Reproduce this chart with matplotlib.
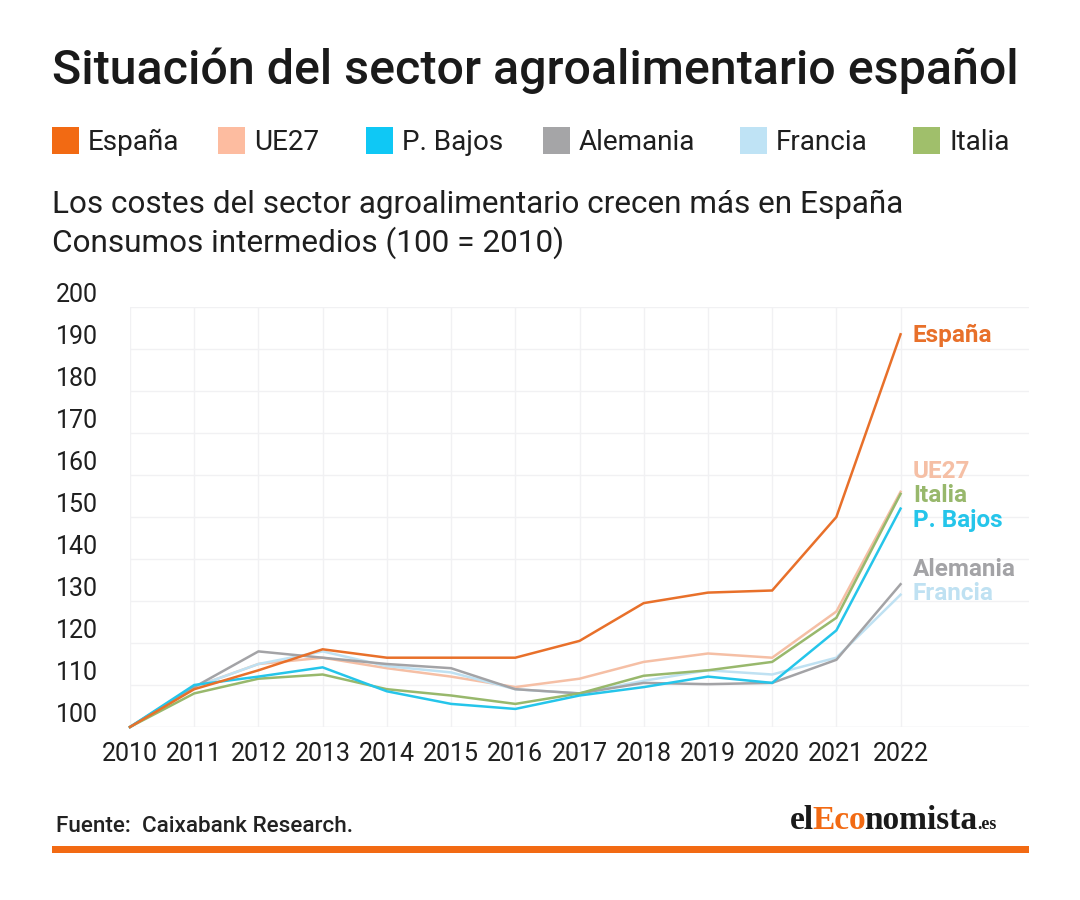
#!/usr/bin/env python3
# -*- coding: utf-8 -*-
import matplotlib
matplotlib.use('Agg')
import matplotlib.pyplot as plt
from matplotlib.patches import Rectangle
from matplotlib.transforms import ScaledTranslation

W, H = 1080, 900

years = list(range(2010, 2023))
espana = [100, 109, 113.5, 118.5, 116.5, 116.5, 116.5, 120.5, 129.5, 132, 132.5, 150, 193.5]
ue27 = [100, 109.5, 115, 116.5, 114, 112, 109.5, 111.5, 115.5, 117.5, 116.5, 127.5, 156]
p_bajos = [100, 110, 112, 114.2, 108.5, 105.5, 104.3, 107.5, 109.5, 112, 110.5, 123, 152]
alemania = [100, 109.5, 118, 116.5, 115, 114, 109, 108, 110.5, 110.2, 110.5, 116, 134]
francia = [100, 109.5, 115, 118, 114.5, 113, 109, 108, 111, 113.5, 112.5, 116.5, 131.5]
italia = [100, 108, 111.5, 112.5, 109, 107.5, 105.5, 108, 112.2, 113.5, 115.5, 126, 155.5]
yticks = list(range(100, 201, 10))

names = ['España', 'UE27', 'P. Bajos', 'Alemania', 'Francia', 'Italia']
colors = ['#F26A13', '#FDBCA0', '#0FC8F5', '#A5A5A7', '#BFE3F5', '#A0BF6B']
legend_x = [52, 218, 366, 543, 740, 913]
# end label heights in pixels, they are moved apart so they don't overlap
label_y = [335, 471, 521, 570, 593, 496]
line_colors = ['#E8702A', '#F5BFA5', '#25C5EA', '#A3A3A6', '#BFE1F2', '#98B86C']

series = [espana, ue27, p_bajos, alemania, francia, italia]
draw_order = [1, 4, 3, 5, 2, 0]

plt.rcParams['font.family'] = ['Roboto', 'DejaVu Sans']
ink = '#1F1F1F'

fig = plt.figure(figsize=(W / 100, H / 100), dpi=100, facecolor='white')


def px(x, y):
    # pixel position (from top left) to figure fraction
    return x / W, 1 - y / H


def put(x, y, s, **kw):
    fx, fy = px(x, y)
    kw.setdefault('va', 'center')
    kw.setdefault('color', ink)
    return fig.text(fx, fy, s, **kw)


left, right, top, bottom = 130, 1029, 307, 727
ax = fig.add_axes([left / W, 1 - bottom / H, (right - left) / W, (bottom - top) / H])

for i in draw_order:
    ax.plot(years, series[i], color=line_colors[i], lw=1.8, clip_on=False, zorder=3,
            solid_joinstyle='miter')

ax.set_xlim(2010, 2024)
ax.set_ylim(100, 200)
ax.set_xticks(years)
ax.set_yticks(yticks)
ax.tick_params(length=0, labelsize=18, labelcolor=ink)
ax.tick_params(axis='x', pad=11)
ax.tick_params(axis='y', pad=23)
ax.grid(color='#F1F1F3', lw=1)
ax.set_axisbelow(True)
for s in ax.spines.values():
    s.set_visible(False)
ax.axhline(100, color='#F1F1F3', lw=1, zorder=1)

# y labels sit above their gridlines in this chart
lift = ScaledTranslation(0, 15 / 100, fig.dpi_scale_trans)
for lab in ax.get_yticklabels():
    lab.set_transform(lab.get_transform() + lift)

put(52, 71, 'Situación del sector agroalimentario español', fontsize=34.85, fontweight='medium', color='#1A1A1A')

for x, name, c in zip(legend_x, names, colors):
    fx, fy = px(x, 154)
    fig.add_artist(Rectangle((fx, fy), 27 / W, 27 / H, transform=fig.transFigure, color=c, lw=0))
    put(x + 36, 142, name, fontsize=20.1)

put(52, 204, 'Los costes del sector agroalimentario crecen más en España', fontsize=22.65)
put(52, 243, 'Consumos intermedios (100 = 2010)', fontsize=22.65)

for name, c, y in zip(names, line_colors, label_y):
    put(913, y, name, fontsize=17.5, fontweight='bold', color=c)

put(56, 826, 'Fuente:  Caixabank Research.', fontsize=16.2, fontweight='medium', color='#222222')

# logo, one word in pieces because of the coloured part
logo = dict(family='Liberation Serif', fontweight='bold', va='baseline')
put(790, 829, 'el', fontsize=24, color='#1A1A1A', **logo)
put(812, 829, 'Eco', fontsize=24, color='#F26A13', **logo)
put(864, 829, 'nomista', fontsize=24, color='#1A1A1A', **logo)
put(977, 829, '.es', fontsize=13, color='#1A1A1A', **logo)

fx, fy = px(52, 853)
fig.add_artist(Rectangle((fx, fy), (1029 - 52) / W, 7 / H, transform=fig.transFigure,
                         color='#F26A13', lw=0))

fig.savefig('out.png', dpi=100)
